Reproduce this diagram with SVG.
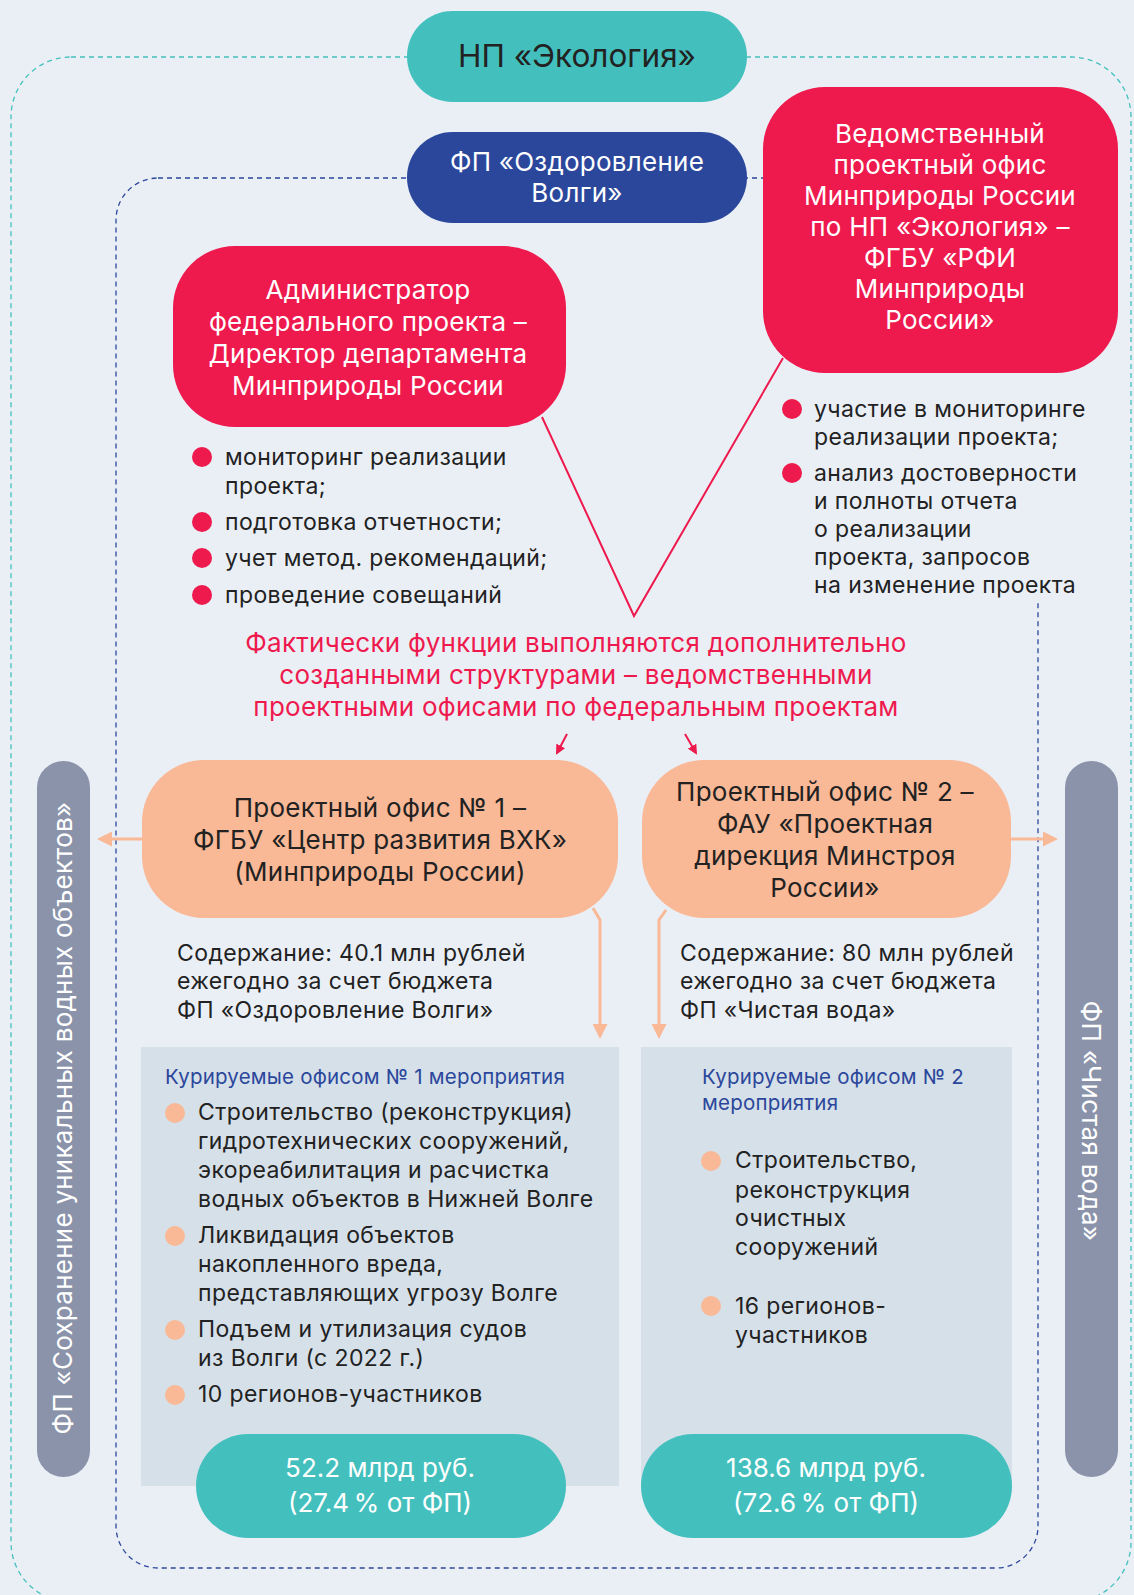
<svg xmlns="http://www.w3.org/2000/svg" width="1134" height="1595" viewBox="0 0 1134 1595">
<defs>
<style>
text{font-family:Inter,"Noto Sans","Liberation Sans",sans-serif}
.w{fill:#fff}
.d{fill:#222}
.c{text-anchor:middle}
.t25{font-size:26px;letter-spacing:0.25px}
.t22{font-size:23px;letter-spacing:0.4px}
.t20{font-size:20.5px;letter-spacing:0.2px}
.sum{font-size:26px}
.red{fill:#ee1a4e}
.teal{fill:#43c0bd}
.peach{fill:#f9b896}
.panel{fill:#d6e0e9}
.gray{fill:#8a93aa}
.navy{fill:#2b479b}
.rl{stroke:#ee1a4e;stroke-width:2;fill:none}
.ol{stroke:#f9b896;stroke-width:3;fill:none}
</style>
<marker id="ra" viewBox="0 0 10 10" refX="8" refY="5" markerWidth="5" markerHeight="5" orient="auto"><path d="M0,0L10,5L0,10z" fill="#ee1a4e"/></marker>
<marker id="oa" viewBox="0 0 10 10" refX="8" refY="5" markerWidth="5" markerHeight="5" orient="auto"><path d="M0,0L10,5L0,10z" fill="#f9b896"/></marker>
</defs>
<rect width="1134" height="1595" fill="#eaeff6"/>
<g id="frames">
<rect x="11" y="57" width="1120" height="1545" rx="60" fill="none" stroke="#43c0bd" stroke-width="1.3" stroke-dasharray="5,4"/>
<rect x="116" y="178" width="922" height="1390" rx="42" fill="none" stroke="#2b479b" stroke-width="1.3" stroke-dasharray="5,4"/>
<rect x="770" y="370" width="320" height="230" fill="#eaeff6"/>
</g>
<g id="np">
<rect x="407" y="11" width="340" height="91" rx="45.5" class="teal"/>
<text x="577" y="67" class="c d" font-size="31.5">НП «Экология»</text>
</g>
<g id="fp-volga">
<rect x="407" y="132" width="340" height="91" rx="45.5" class="navy"/>
<text x="577" y="171" class="c w t25">ФП «Оздоровление</text>
<text x="577" y="202" class="c w t25">Волги»</text>
</g>
<g id="vpo">
<rect x="763" y="87" width="355" height="286" rx="62" class="red"/>
<text class="c w t25"><tspan x="940" y="143">Ведомственный</tspan><tspan x="940" y="174">проектный офис</tspan><tspan x="940" y="205">Минприроды России</tspan><tspan x="940" y="236">по НП «Экология» –</tspan><tspan x="940" y="267">ФГБУ «РФИ</tspan><tspan x="940" y="298">Минприроды</tspan><tspan x="940" y="329">России»</tspan></text>
</g>
<g id="vpo-list">
<circle cx="792" cy="409" r="10" class="red"/>
<circle cx="792" cy="473" r="10" class="red"/>
<text class="d t22"><tspan x="814" y="417">участие в мониторинге</tspan><tspan x="814" y="445">реализации проекта;</tspan><tspan x="814" y="481">анализ достоверности</tspan><tspan x="814" y="509">и полноты отчета</tspan><tspan x="814" y="537">о реализации</tspan><tspan x="814" y="565">проекта, запросов</tspan><tspan x="814" y="593">на изменение проекта</tspan></text>
</g>
<g id="admin">
<rect x="173" y="246" width="393" height="181" rx="62" class="red"/>
<text class="c w t25"><tspan x="368" y="299">Администратор</tspan><tspan x="368" y="331">федерального проекта –</tspan><tspan x="368" y="363">Директор департамента</tspan><tspan x="368" y="395">Минприроды России</tspan></text>
</g>
<g id="admin-list">
<circle cx="202" cy="457" r="10" class="red"/>
<circle cx="202" cy="522" r="10" class="red"/>
<circle cx="202" cy="558" r="10" class="red"/>
<circle cx="202" cy="595" r="10" class="red"/>
<text class="d t22"><tspan x="225" y="465">мониторинг реализации</tspan><tspan x="225" y="494">проекта;</tspan><tspan x="225" y="530">подготовка отчетности;</tspan><tspan x="225" y="566">учет метод. рекомендаций;</tspan><tspan x="225" y="603">проведение совещаний</tspan></text>
</g>
<g id="note">
<text class="c t25" fill="#ee1a4e"><tspan x="576" y="652">Фактически функции выполняются дополнительно</tspan><tspan x="576" y="684">созданными структурами – ведомственными</tspan><tspan x="576" y="716">проектными офисами по федеральным проектам</tspan></text>
</g>
<g id="po1">
<rect x="142" y="760" width="476" height="158" rx="62" class="peach"/>
<text class="c d t25"><tspan x="380" y="817">Проектный офис № 1 –</tspan><tspan x="380" y="849">ФГБУ «Центр развития ВХК»</tspan><tspan x="380" y="881">(Минприроды России)</tspan></text>
</g>
<g id="po2">
<rect x="642" y="760" width="369" height="158" rx="62" class="peach"/>
<text class="c d t25"><tspan x="825" y="801">Проектный офис № 2 –</tspan><tspan x="825" y="833">ФАУ «Проектная</tspan><tspan x="825" y="865">дирекция Минстроя</tspan><tspan x="825" y="897">России»</tspan></text>
</g>
<g id="cost1">
<text class="d t22"><tspan x="177" y="961">Содержание: 40.1 млн рублей</tspan><tspan x="177" y="989">ежегодно за счет бюджета</tspan><tspan x="177" y="1018">ФП «Оздоровление Волги»</tspan></text>
</g>
<g id="cost2">
<text class="d t22"><tspan x="680" y="961">Содержание: 80 млн рублей</tspan><tspan x="680" y="989">ежегодно за счет бюджета</tspan><tspan x="680" y="1018">ФП «Чистая вода»</tspan></text>
</g>
<g id="side-left">
<rect x="37" y="761" width="53" height="716" rx="26.5" class="gray"/>
<text transform="translate(72,1118) rotate(-90)" x="0" y="0" class="c w t25">ФП «Сохранение уникальных водных объектов»</text>
</g>
<g id="side-right">
<rect x="1065" y="761" width="53" height="716" rx="26.5" class="gray"/>
<text transform="translate(1082,1121) rotate(90)" x="0" y="0" class="c w t25">ФП «Чистая вода»</text>
</g>
<g id="panel1">
<rect x="141" y="1047" width="478" height="439" class="panel"/>
<text x="165" y="1084" class="t20 navy">Курируемые офисом № 1 мероприятия</text>
<circle cx="175" cy="1113" r="10" class="peach"/>
<circle cx="175" cy="1236" r="10" class="peach"/>
<circle cx="175" cy="1330" r="10" class="peach"/>
<circle cx="175" cy="1395" r="10" class="peach"/>
<text class="d t22"><tspan x="198" y="1120">Строительство (реконструкция)</tspan><tspan x="198" y="1149">гидротехнических сооружений,</tspan><tspan x="198" y="1178">экореабилитация и расчистка</tspan><tspan x="198" y="1207">водных объектов в Нижней Волге</tspan><tspan x="198" y="1243">Ликвидация объектов</tspan><tspan x="198" y="1272">накопленного вреда,</tspan><tspan x="198" y="1301">представляющих угрозу Волге</tspan><tspan x="198" y="1337">Подъем и утилизация судов</tspan><tspan x="198" y="1366">из Волги (с 2022 г.)</tspan><tspan x="198" y="1402">10 регионов-участников</tspan></text>
</g>
<g id="panel2">
<rect x="641" y="1047" width="371" height="439" class="panel"/>
<text class="t20 navy"><tspan x="702" y="1084">Курируемые офисом № 2</tspan><tspan x="702" y="1110">мероприятия</tspan></text>
<circle cx="711" cy="1161" r="10" class="peach"/>
<circle cx="711" cy="1306" r="10" class="peach"/>
<text class="d t22"><tspan x="735" y="1168">Строительство,</tspan><tspan x="735" y="1198">реконструкция</tspan><tspan x="735" y="1226">очистных</tspan><tspan x="735" y="1255">сооружений</tspan><tspan x="735" y="1314">16 регионов-</tspan><tspan x="735" y="1343">участников</tspan></text>
</g>
<g id="sum1">
<rect x="196" y="1434" width="370" height="104" rx="52" class="teal"/>
<text class="c w sum"><tspan x="380" y="1477">52.2 млрд руб.</tspan><tspan x="380" y="1512">(27.4&#8201;% от ФП)</tspan></text>
</g>
<g id="sum2">
<rect x="641" y="1434" width="371" height="104" rx="52" class="teal"/>
<text class="c w sum"><tspan x="826" y="1477">138.6 млрд руб.</tspan><tspan x="826" y="1512">(72.6&#8201;% от ФП)</tspan></text>
</g>
<g id="connectors">
<polyline points="542,417 634,616 783,358" class="rl"/>
<line x1="567" y1="734" x2="557" y2="753" class="rl" marker-end="url(#ra)"/>
<line x1="685" y1="734" x2="696" y2="753" class="rl" marker-end="url(#ra)"/>
<line x1="142" y1="839" x2="100" y2="839" class="ol" marker-end="url(#oa)"/>
<line x1="1011" y1="839" x2="1055" y2="839" class="ol" marker-end="url(#oa)"/>
<polyline points="593,908 600,920 600,1036" class="ol" marker-end="url(#oa)"/>
<polyline points="666,910 659,920 659,1036" class="ol" marker-end="url(#oa)"/>
</g>
</svg>
